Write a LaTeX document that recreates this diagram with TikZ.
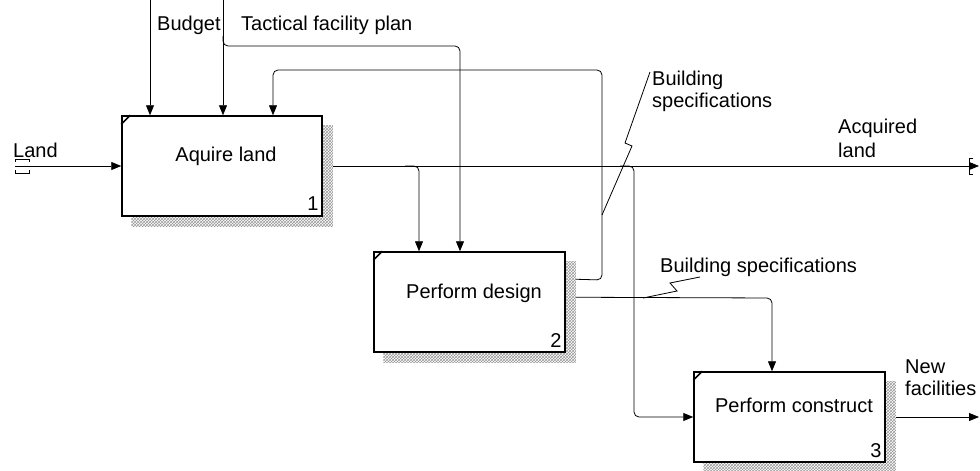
\documentclass[tikz,border=0pt]{standalone}
\usepackage{fontspec}
\setmainfont{Liberation Sans}
\usetikzlibrary{arrows.meta,calc,patterns,backgrounds}
\begin{document}
\begin{tikzpicture}[x=1pt,y=-1pt,
  txt/.style={font=\fontsize{20}{23}\selectfont, inner sep=0pt, anchor=base west},
  num/.style={font=\fontsize{20}{23}\selectfont, inner sep=0pt, anchor=base east},
  fbox/.style={draw, line width=1.5pt, fill=white, inner sep=0pt},
  conn/.style={line width=0.8pt, rounded corners=5pt},
  arr/.style={conn, -{Triangle[length=10pt,width=8pt]}},
  shade/.style={pattern=crosshatch, pattern color=gray!80},
  tick/.style={line width=1.5pt}
]
\useasboundingbox (0,0) rectangle (980,471);

% boxes
\node[fbox, minimum width=200pt, minimum height=100pt] (b1) at (222,166) {};
\node[fbox, minimum width=191pt, minimum height=100pt] (b2) at (469.5,302) {};
\node[fbox, minimum width=191pt, minimum height=90pt] (b3) at (789.5,417) {};

\begin{scope}[on background layer]
  \foreach \b in {b1,b2,b3}{
    \fill[shade] ($(\b.north west)+(10,10)$) rectangle ($(\b.south east)+(10,10)$);
  }
\end{scope}

\foreach \b in {b1,b2,b3}{
  \draw[tick] ($(\b.north west)+(0,9)$) -- ($(\b.north west)+(9,0)$);
}

% box texts
\node[txt, anchor=base] (t1) at (226,161) {Aquire land};
\node[txt, anchor=base] (t2) at (474,298) {Perform design};
\node[txt, anchor=base] (t3) at (794,412) {Perform construct};
\node[num] (n1) at ($(b1.south east)+(-4,-6)$) {1};
\node[num] (n2) at ($(b2.south east)+(-4,-5)$) {2};
\node[num] (n3) at ($(b3.south east)+(-4,-5)$) {3};

% free ends
\coordinate (landIn) at (15,166);
\coordinate (budgetTop) at (150,0);
\coordinate (tacTop) at (223,0);
\coordinate (acqOut) at (979,166);
\coordinate (newOut) at (979,417);

% Land
\draw[arr] (landIn) -- (landIn -| b1.west);
\draw[line width=0.8pt] (15,162) -- (15,159) -- (29,159) -- (29,162);
\draw[line width=0.8pt] (15,170) -- (15,173) -- (29,173) -- (29,170);
\node[txt] (lLand) at (13,157) {Land};

% Budget
\draw[arr] (budgetTop) -- (budgetTop |- b1.north);
\node[txt] (lBudget) at (157,30) {Budget};

% Tactical facility plan
\draw[arr] (tacTop) -- (tacTop |- b1.north);
\draw[arr] (223,36) -- (223,46) -- (460,46) -- (460,0 |- b2.north);
\node[txt] (lTac) at (241,30) {Tactical facility plan};

% Feedback: building specifications to box 1
\draw[arr] ($(b2.north east)+(10,28)$) -- (602,280) -- (602,70) -- (273,70) -- (273,0 |- b1.north);
\draw[line width=0.8pt] (650,72) -- (625,143) -- (632,146) -- (602,215);
\node[txt] (lBs1a) at (652,85) {Building};
\node[txt] (lBs1b) at (652,107) {specifications};

% Acquired land
\draw[arr] ($(b1.east)+(10,0)$) -- (acqOut);
\draw[arr] (405,166) -- (419,166) -- (419,0 |- b2.north);
\draw[arr] (620,166) -- (634,166) -- (634,417) -- (b3.west);
\draw[line width=0.8pt] (973,158) -- (969,158) -- (969,162);
\draw[line width=0.8pt] (969,170) -- (969,174) -- (973,174);
\node[txt] (lAcqA) at (838,133) {Acquired};
\node[txt] (lAcqB) at (838,157) {land};

% Building specifications to box 3
\draw[arr] ($(b2.north east)+(10,46)$) -- (772,298) -- (772,0 |- b3.north);
\draw[line width=0.8pt] (700,277) -- (670,283) -- (677,291) -- (643,298);
\node[txt] (lBs2) at (660,272) {Building specifications};

% New facilities
\draw[arr] ($(b3.east)+(10,0)$) -- (newOut);
\node[txt] (lNewA) at (905,373) {New};
\node[txt] (lNewB) at (905,395) {facilities};
\end{tikzpicture}
\end{document}
